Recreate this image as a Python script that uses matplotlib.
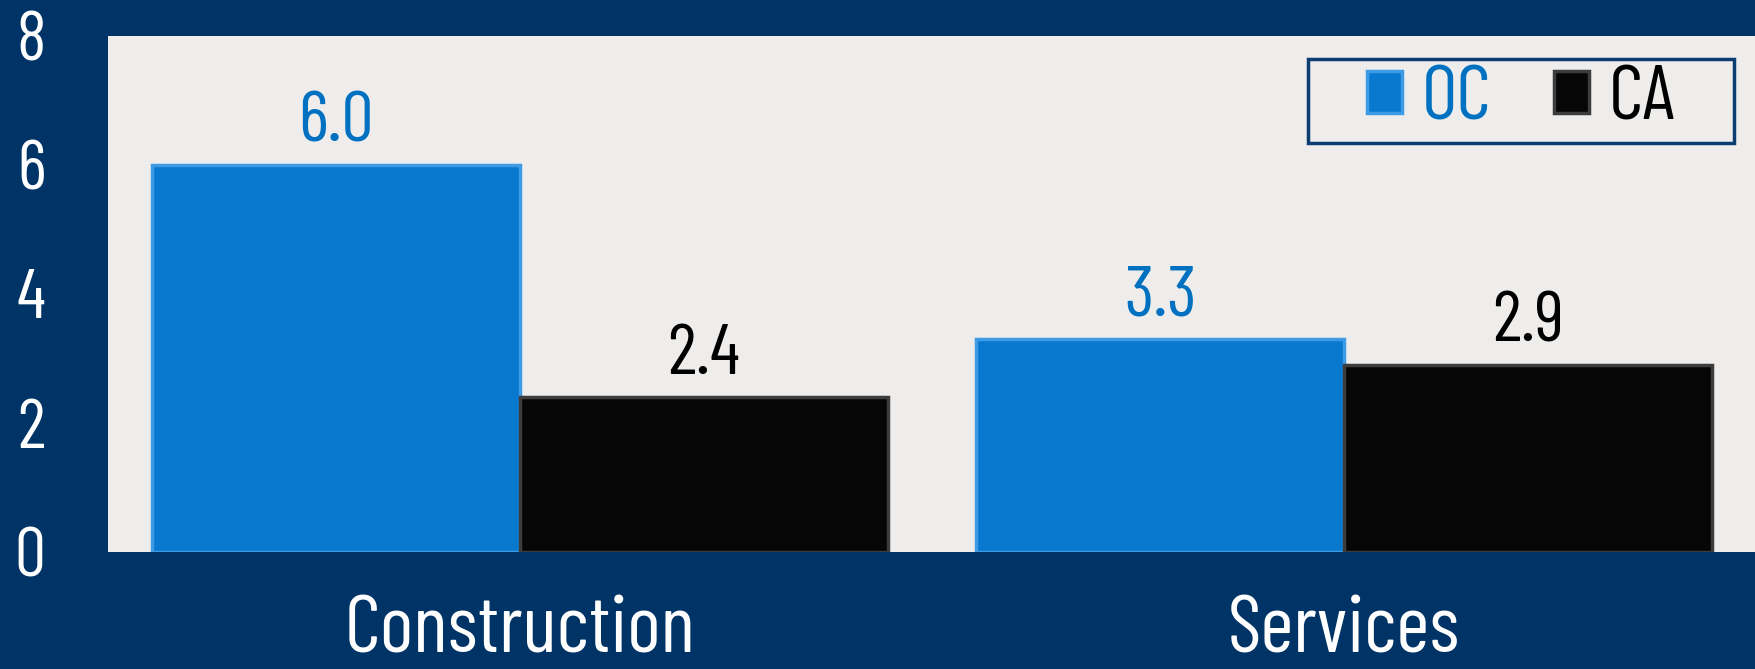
import matplotlib.pyplot as plt
from matplotlib.patches import Rectangle
import numpy as np

categories = ["Construction", "Services"]
series = ["OC", "CA"]
oc_values = [6.0, 3.3]
ca_values = [2.4, 2.9]
y_ticks = [0, 2, 4, 6, 8]

NAVY = "#003366"
BLUE = "#0979cf"
LABEL_BLUE = "#0070c0"
BLACK = "#060606"
plt.rcParams["font.family"] = ["Barlow Condensed", "Roboto Condensed", "DejaVu Sans"]

fig = plt.figure(figsize=(17.56, 6.69), dpi=100, facecolor=NAVY)
ax = fig.add_axes([108 / 1756, 117 / 669, 1648 / 1756, 516 / 669])
ax.set_facecolor("#eeedeb")

x = np.arange(len(categories))
w = 0.446
b1 = ax.bar(x - w / 2, oc_values, w, color=BLUE, edgecolor="#3d9be6", linewidth=2.5, label=series[0], zorder=3)
b2 = ax.bar(x + w / 2, ca_values, w, color=BLACK, edgecolor="#3c3c3c", linewidth=2.5, label=series[1], zorder=3)

for bars, vals, col in [(b1, oc_values, LABEL_BLUE), (b2, ca_values, "black")]:
    for r, v in zip(bars, vals):
        ax.annotate(f"{v:.1f}", (r.get_x() + r.get_width() / 2, v), textcoords="offset points",
                    xytext=(0, 17), ha="center", va="baseline", fontsize=52, color=col)

ax.set_xlim(-0.5, 1.5)
ax.set_ylim(0, 8)
ax.set_yticks(y_ticks)
ax.set_xticks(x)
ax.set_xticklabels(categories)
ax.tick_params(axis="y", length=0, pad=45, labelsize=50, labelcolor="white")
ax.tick_params(axis="x", length=0, pad=31, labelsize=58, labelcolor="white")
for s in ax.spines.values():
    s.set_visible(False)

# legend box drawn separately so the padding can match
ax.add_patch(Rectangle((1200 / 1648, (552 - 143) / 516), 426 / 1648, 84 / 516, transform=ax.transAxes,
                       facecolor="none", edgecolor="#0b3d73", linewidth=2.5, zorder=5))
leg = ax.legend(loc="center", bbox_to_anchor=((1200 + 213) / 1648, (552 - 101) / 516), ncol=2, fontsize=56,
                frameon=False, handlelength=0.45, handleheight=0.45, handletextpad=0.25, columnspacing=0.8,
                borderpad=0)
for t, c in zip(leg.get_texts(), [LABEL_BLUE, "black"]):
    t.set_color(c)

fig.savefig("out.png", dpi=100, facecolor=NAVY)
